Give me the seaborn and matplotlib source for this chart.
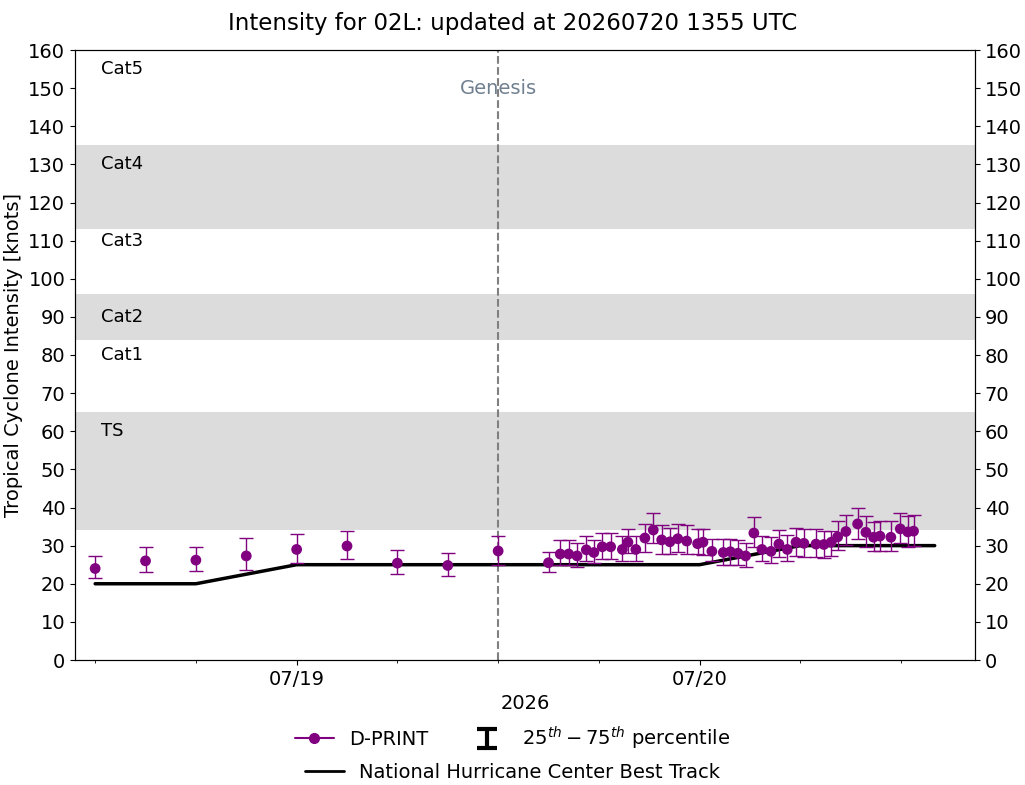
import numpy as np
import pandas as pd
import matplotlib
matplotlib.use("Agg")
import matplotlib.pyplot as plt
import matplotlib.dates as mdates
import matplotlib.transforms as mtransforms
from matplotlib.lines import Line2D
import seaborn as sns

# DATA (hours after 2026-07-19 00 UTC)
dprint_hours = [-12.0, -9.0, -6.0, -3.0, 0.0, 3.0, 6.0, 9.0, 12.0, 15.0,
                15.7, 16.2, 16.7, 17.25, 17.7, 18.2, 18.7, 19.4, 19.73, 20.2,
                20.74, 21.24, 21.74, 22.23, 22.7, 23.23, 23.88, 24.2, 24.73, 25.41,
                25.83, 26.28, 26.74, 27.23, 27.71, 28.25, 28.72, 29.22, 29.74, 30.21,
                30.93, 31.4, 31.84, 32.22, 32.71, 33.41, 33.9, 34.36, 34.74, 35.39,
                35.95, 36.4, 36.74]
dprint_vmax = [24.0, 26.0, 26.2, 27.3, 29.0, 29.9, 25.4, 24.8, 28.6, 25.5,
               27.8, 27.8, 27.3, 28.9, 28.2, 29.7, 29.7, 29.0, 30.9, 29.0,
               32.0, 34.1, 31.5, 31.0, 31.8, 31.2, 30.5, 30.9, 28.5, 28.2,
               28.4, 28.0, 27.3, 33.3, 29.0, 28.5, 30.4, 29.0, 30.9, 30.6,
               30.4, 30.3, 30.9, 32.3, 33.7, 35.7, 33.5, 32.2, 32.5, 32.2,
               34.4, 33.6, 33.8]
dprint_p25 = [21.4, 23.1, 23.3, 23.6, 25.4, 26.4, 22.5, 22.0, 24.8, 23.1,
              24.8, 24.8, 24.5, 25.9, 25.4, 26.4, 26.4, 26.0, 28.0, 26.0,
              28.4, 30.6, 27.8, 27.8, 28.3, 27.8, 27.8, 27.5, 25.9, 24.9,
              24.9, 24.9, 24.3, 29.6, 26.0, 25.5, 27.1, 26.0, 27.3, 27.1,
              27.1, 26.8, 27.3, 28.9, 30.1, 31.8, 29.6, 28.5, 28.5, 28.5,
              30.8, 29.7, 29.9]
dprint_p75 = [27.3, 29.6, 29.6, 31.9, 33.0, 33.8, 28.8, 28.1, 32.4, 28.4,
              31.4, 31.4, 30.6, 32.4, 31.6, 33.2, 33.4, 32.5, 34.4, 32.5,
              35.8, 38.5, 35.3, 34.6, 35.8, 35.3, 34.3, 34.4, 31.8, 31.7,
              31.8, 31.4, 30.6, 37.4, 32.4, 32.2, 34.1, 32.7, 34.6, 34.3,
              34.3, 33.8, 33.8, 36.5, 38.0, 39.8, 37.7, 36.3, 36.5, 36.4,
              38.5, 37.8, 38.0]

best_track_hours = [-12, -6, 0, 6, 12, 18, 24, 30, 36, 38]
best_track_vmax = [20, 20, 25, 25, 25, 25, 25, 30, 30, 30]

genesis_hour = 12
cat_names = ["TS", "Cat1", "Cat2", "Cat3", "Cat4", "Cat5"]
cat_label_y = [60, 80, 90, 110, 130, 155]
shaded_bands = [(34, 65), (84, 96), (113, 135)]

t0 = pd.Timestamp("2026-07-19 00:00")
dp = pd.DataFrame({
    "time": t0 + pd.to_timedelta(dprint_hours, unit="h"),
    "vmax": dprint_vmax,
    "p25": dprint_p25,
    "p75": dprint_p75,
})
bt = pd.DataFrame({
    "time": t0 + pd.to_timedelta(best_track_hours, unit="h"),
    "vmax": best_track_vmax,
})

sns.set_style("ticks")
plt.rcParams['font.family'] = ['DejaVu Sans']
plt.rcParams.update({"text.color": "black", "axes.labelcolor": "black",
                     "xtick.color": "black", "ytick.color": "black",
                     "axes.edgecolor": "black"})

fig = plt.figure(figsize=(10.25, 7.85), dpi=100)
ax = fig.add_axes([75 / 1025, 1 - 660 / 785, 900 / 1025, 610 / 785])

for lo, hi in shaded_bands:
    ax.axhspan(lo, hi, color="#dcdcdc", zorder=0, lw=0)

trans = mtransforms.blended_transform_factory(ax.transAxes, ax.transData)
for name, yv in zip(cat_names, cat_label_y):
    ax.text(0.029, yv, name, transform=trans, va="center", ha="left", fontsize=13)

genesis = t0 + pd.Timedelta(hours=genesis_hour)
ax.axvline(genesis, color="gray", ls="--", lw=1.5, zorder=1)
ax.text(genesis, 150, "Genesis", color="slategray", ha="center", va="center", fontsize=14)

sns.lineplot(data=bt, x="time", y="vmax", color="black", lw=2.5, ax=ax, zorder=2)

ax.errorbar(dp["time"], dp["vmax"],
            yerr=[dp["vmax"] - dp["p25"], dp["p75"] - dp["vmax"]],
            fmt="none", ecolor="purple", elinewidth=1, capsize=5, capthick=1, zorder=3)
sns.scatterplot(data=dp, x="time", y="vmax", color="purple", s=60, edgecolor="none",
                ax=ax, zorder=4)

ax.set_xlim(t0 - pd.Timedelta(hours=13.2), t0 + pd.Timedelta(hours=40.4))
ax.set_ylim(0, 160)
ax.set_yticks(np.arange(0, 161, 10))
ax.xaxis.set_major_locator(mdates.DayLocator())
ax.xaxis.set_major_formatter(mdates.DateFormatter("%m/%d"))
ax.xaxis.set_minor_locator(mdates.HourLocator(byhour=[0, 6, 12, 18]))
ax.tick_params(axis="both", labelsize=14)
ax.set_xlabel("2026", fontsize=14)
ax.set_ylabel("Tropical Cyclone Intensity [knots]", fontsize=14)

ax2 = ax.twinx()
ax2.set_ylim(0, 160)
ax2.set_yticks(np.arange(0, 161, 10))
ax2.tick_params(axis="y", labelsize=14)

fig.suptitle("Intensity for 02L: updated at 20260720 1355 UTC", fontsize=16.5, y=0.985)

# legends
h_dprint = Line2D([], [], color="purple", marker="o", markersize=7, lw=1.5)
h_pct = ax.errorbar([np.nan], [np.nan], yerr=[1], fmt="none", ecolor="black",
                    elinewidth=3, capsize=7, capthick=3)
h_bt = Line2D([], [], color="black", lw=2)
fig.legend([h_dprint, h_pct], ["D-PRINT", r"$25^{th}-75^{th}$ percentile"],
           loc="center", bbox_to_anchor=(0.5, 1 - 738 / 785), ncol=2, frameon=False,
           fontsize=14, columnspacing=2.0)
fig.legend([h_bt], ["National Hurricane Center Best Track"],
           loc="center", bbox_to_anchor=(0.5, 1 - 772 / 785), frameon=False, fontsize=14)

fig.savefig("out.png", dpi=100)
